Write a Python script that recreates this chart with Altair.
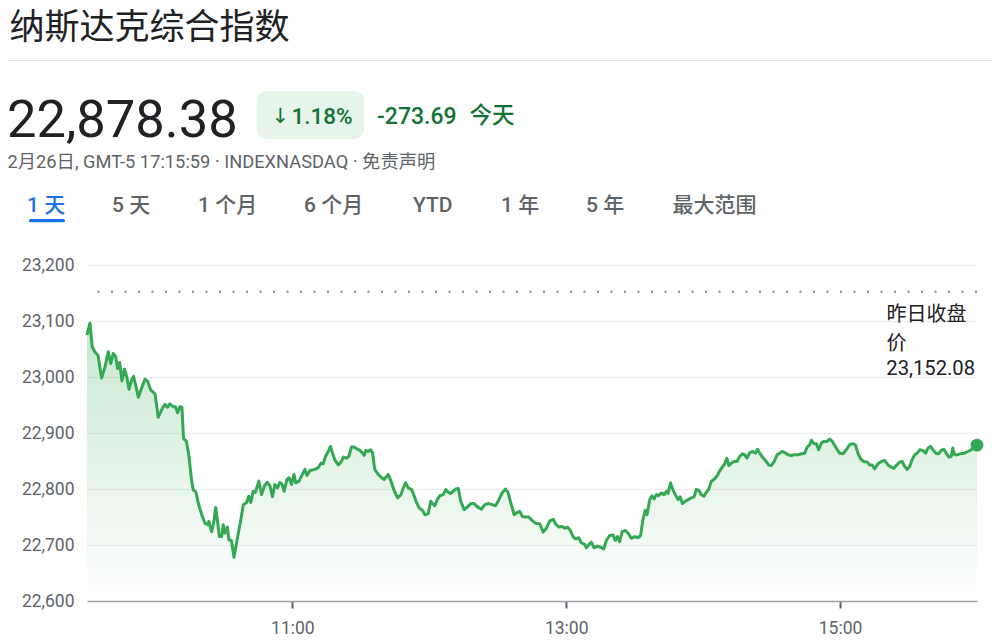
import altair as alt
import pandas as pd

# ---------------- data ----------------
title_text = "纳斯达克综合指数"
last_price = 22878.38
change_pts = "-273.69"
change_pct = "1.18%"
today_label = "今天"
prev_close = 23152.08
prev_close_label = ["昨日收盘", "价"]
subtitle_text = "2月26日, GMT-5 17:15:59 · INDEXNASDAQ · 免责声明"
range_tabs = ["1 天", "5 天", "1 个月", "6 个月", "YTD", "1 年", "5 年", "最大范围"]

session_date = (2026, 2, 26)
open_time = "09:30"
close_time = "16:00"
x_tick_times = ["11:00", "13:00", "15:00"]
y_ticks = [22600, 22700, 22800, 22900, 23000, 23100, 23200]

# minutes after the 09:30 open
minutes = [
    0.0, 1.3, 2.3, 3.4, 4.8, 6.4, 7.9, 9.3, 10.4, 11.5, 12.6, 13.4, 14.3, 15.3, 16.4, 17.4,
    18.4, 19.6, 20.4, 21.3, 22.5, 23.9, 25.4, 26.6, 27.9, 29.8, 31.2, 33.0, 34.2, 35.3, 36.3,
    37.7, 38.8, 39.7, 40.7, 41.6, 42.3, 43.6, 44.7, 45.8, 46.6, 47.7, 48.8, 50.3, 51.7, 52.9,
    53.4, 54.6, 55.5, 56.4, 57.1, 58.0, 59.0, 59.7, 60.4, 61.5, 62.2, 63.3, 64.4,
    66.3, 67.4, 68.5, 69.9, 70.9, 71.8, 72.8, 73.8, 75.3, 76.5, 77.7, 79.0, 80.2, 81.3, 82.3,
    83.5, 84.5, 85.5, 86.4, 87.6, 88.6, 89.6, 90.7, 91.5, 92.9, 94.0, 95.5, 96.4, 97.7, 99.9,
    101.3, 102.5, 103.5, 104.5, 105.7, 106.7, 107.6, 108.6, 110.1, 111.3, 112.4, 113.7, 114.7,
    115.9, 117.0, 118.5, 119.6, 120.6, 121.5, 122.2, 123.2, 124.3, 125.1, 126.1, 127.6, 129.1,
    130.2, 132.0, 133.2, 134.7, 136.1, 137.6, 138.6, 139.6, 140.8, 142.3, 143.4, 144.4, 145.6,
    147.0, 148.1, 149.5, 150.6, 151.4, 152.4, 153.5, 154.6, 156.1, 157.2, 158.3, 159.3, 160.5,
    161.6, 162.7, 163.8, 165.3, 166.7, 168.2, 169.6, 171.1, 172.8, 174.3, 176.0, 177.5, 179.0,
    180.4, 181.9, 183.4, 184.5, 185.7, 187.2, 188.5, 189.6, 190.8, 192.3, 193.6, 195.0, 196.5,
    198.4, 199.9, 201.3, 202.8, 204.3, 205.3, 206.7, 208.2, 209.4, 210.5, 211.8, 213.0, 214.0,
    215.5, 216.6, 218.1, 218.8, 220.0, 221.0, 222.2, 223.6, 225.1, 226.4, 227.6, 229.0, 230.5,
    231.5, 232.4, 233.4, 234.5, 235.9, 237.1, 238.5, 240.0, 241.4, 242.6, 243.6, 244.6, 245.4,
    246.6, 247.6, 248.5, 249.5, 250.5, 251.7, 252.9, 253.9, 254.6, 255.7, 256.8, 257.8, 259.0,
    259.9, 260.9, 262.2, 263.4, 264.9, 266.0, 267.0, 268.0, 269.2, 270.4, 271.4, 272.4, 273.6,
    275.0, 276.2, 277.2, 278.4, 279.4, 280.4, 281.3, 282.3, 283.5, 284.8, 286.0, 287.2, 288.2,
    289.2, 290.4, 291.8, 292.9, 293.8, 294.8, 295.8, 297.3, 298.7, 299.9, 301.1, 302.4, 303.5,
    304.6, 305.7, 307.2, 308.6, 310.1, 311.5, 313.0, 314.5, 315.6, 316.7, 317.4, 318.6, 319.6,
    320.6, 321.8, 323.0, 324.3, 325.5, 326.6, 328.8, 329.8, 331.3, 332.7, 334.2, 335.6, 336.7,
    337.8, 339.0, 340.4, 341.9, 342.9, 344.1, 345.1, 346.6, 348.0, 349.5, 351.0, 352.4, 353.6,
    354.6, 356.1, 357.3, 358.3, 359.4, 360.5, 361.5, 362.7, 363.8, 364.9, 366.3, 367.5, 368.5,
    369.7, 370.7, 371.9, 373.2, 374.3, 375.5, 376.5, 377.7, 378.7, 379.4, 380.2, 381.3, 382.8,
    384.5, 386.0, 387.4, 390.0,
]
prices = [
    23075, 23096, 23054, 23045, 23039, 22998, 23018, 23045, 23024, 23042, 23036, 23015, 23026, 22993, 23014, 23001,
    22978, 22995, 23001, 22986, 22964, 22980, 22996, 22992, 22977, 22970, 22928, 22944, 22951, 22946, 22952,
    22947, 22947, 22936, 22947, 22946, 22890, 22885, 22858, 22816, 22798, 22795, 22774, 22754, 22739, 22736,
    22742, 22724, 22739, 22767, 22745, 22715, 22715, 22736, 22721, 22732, 22709, 22708, 22678,
    22721, 22745, 22772, 22776, 22787, 22776, 22796, 22794, 22814, 22790, 22805, 22812, 22805, 22786, 22808,
    22802, 22812, 22808, 22796, 22817, 22820, 22808, 22826, 22811, 22814, 22823, 22835, 22824, 22833, 22835,
    22838, 22846, 22845, 22858, 22867, 22876, 22864, 22852, 22843, 22848, 22857, 22855, 22858,
    22875, 22875, 22871, 22869, 22865, 22860, 22869, 22867, 22870, 22865, 22835, 22826, 22820,
    22817, 22826, 22814, 22796, 22784, 22790, 22802, 22811, 22802, 22799, 22787, 22776, 22766,
    22762, 22754, 22756, 22778, 22774, 22770, 22781, 22788, 22790, 22799, 22794, 22792, 22796,
    22800, 22801, 22778, 22763, 22768, 22774, 22774, 22768, 22764, 22772, 22774, 22772, 22770,
    22780, 22793, 22800, 22794, 22775, 22754, 22758, 22760, 22751, 22750, 22750, 22744, 22739,
    22738, 22723, 22730, 22743, 22746, 22738, 22732, 22733, 22730, 22732, 22726, 22715, 22711,
    22713, 22704, 22701, 22695, 22701, 22705, 22695, 22698, 22696, 22693, 22708, 22717, 22718,
    22708, 22715, 22706, 22724, 22726, 22721, 22712, 22715, 22713, 22717, 22745, 22762, 22754,
    22781, 22788, 22782, 22790, 22788, 22793, 22790, 22796, 22792, 22811, 22798, 22790, 22781,
    22786, 22774, 22778, 22781, 22784, 22786, 22799, 22798, 22790, 22787, 22794, 22799, 22814,
    22818, 22824, 22832, 22839, 22845, 22855, 22842, 22846, 22849, 22849, 22858, 22863, 22861,
    22855, 22865, 22867, 22864, 22871, 22864, 22858, 22851, 22843, 22842, 22849, 22861, 22864,
    22867, 22865, 22861, 22860, 22861, 22861, 22863, 22864, 22875, 22879, 22887, 22881, 22881,
    22870, 22882, 22885, 22885, 22889, 22885, 22870, 22864, 22863, 22870, 22879, 22881, 22879,
    22864, 22854, 22849, 22848, 22843, 22843, 22836, 22845, 22849, 22851, 22843, 22839, 22837,
    22842, 22848, 22849, 22840, 22835, 22840, 22852, 22861, 22864, 22870, 22869, 22864, 22873,
    22876, 22870, 22864, 22863, 22869, 22871, 22864, 22857, 22858, 22873, 22861, 22861, 22863,
    22864, 22867, 22870, 22878.38,
]

# ---------------- build table ----------------
def hm(s):
    h, m = s.split(":")
    return int(h), int(m)

oh, om = hm(open_time)
base_ts = pd.Timestamp(year=session_date[0], month=session_date[1], day=session_date[2],
                       hour=oh, minute=om, tz="UTC")
times = [(base_ts + pd.Timedelta(seconds=round(m * 60))).strftime("%Y-%m-%dT%H:%M:%SZ") for m in minutes]
df = pd.DataFrame({"t": times, "price": prices})


def dt(s):
    h, m = hm(s)
    return alt.DateTime(year=session_date[0], month=session_date[1], date=session_date[2],
                        hours=h, minutes=m, utc=True)


LATIN = "Roboto, 'Noto Sans CJK SC', sans-serif"
CJK = "'Noto Sans CJK SC', Roboto, sans-serif"
DARK = "#202124"
GREY = "#5f6368"
GREEN_TXT = "#137333"
GREEN = "#34a853"

x_enc = alt.X(
    "t:T",
    scale=alt.Scale(type="utc", domain=[dt(open_time), dt(close_time)]),
    axis=alt.Axis(values=[dt(s) for s in x_tick_times], format="%H:%M", title=None, grid=False,
                  domain=True, domainColor="#9aa0a6", domainWidth=1.5, ticks=True,
                  tickColor=GREY, tickWidth=2, tickSize=7, labelFontSize=17.5, labelColor=GREY,
                  labelFont="Roboto", labelPadding=11),
)
y_enc = alt.Y(
    "price:Q",
    scale=alt.Scale(domain=[y_ticks[0], y_ticks[-1]], nice=False, zero=False),
    axis=alt.Axis(values=y_ticks, format=",.0f", title=None, grid=True, gridColor="#ececec",
                  gridWidth=1, domain=False, ticks=False, labelFontSize=17.5, labelColor=GREY,
                  labelFont="Roboto", labelPadding=13),
)

gradient = alt.Gradient(
    gradient="linear",
    stops=[alt.GradientStop(color="rgba(52,168,83,0)", offset=0),
           alt.GradientStop(color="rgba(52,168,83,0.27)", offset=1)],
    x1=1, x2=1, y1=1, y2=0,
)

area = alt.Chart(df).mark_area(color=gradient).encode(x=x_enc, y=y_enc, y2=alt.datum(y_ticks[0]))
line = alt.Chart(df).mark_line(color=GREEN, strokeWidth=3, strokeJoin="round").encode(x=x_enc, y=y_enc)
prev_rule = alt.Chart(pd.DataFrame({"price": [prev_close]})).mark_rule(
    color="#80868b", strokeWidth=2, strokeDash=[2, 11.5]).encode(y=y_enc)
end_dot = alt.Chart(df.tail(1)).mark_circle(color=GREEN, opacity=1, size=165).encode(x=x_enc, y=y_enc)

dummy = pd.DataFrame({"k": [0]})


def label(text, x, y, size, color, font=LATIN, weight=400):
    return alt.Chart(dummy).mark_text(
        text=text, fontSize=size, color=color, font=font, fontWeight=weight,
        align="left", baseline="alphabetic",
    ).encode(x=alt.value(x), y=alt.value(y))


def box(x1, x2, y1, y2, color, radius=0):
    return alt.Chart(dummy).mark_rect(color=color, cornerRadius=radius).encode(
        x=alt.value(x1), x2=alt.value(x2), y=alt.value(y1), y2=alt.value(y2))


separator = alt.Chart(dummy).mark_rule(color="#e3e3e3", strokeWidth=1).encode(
    x=alt.value(-79), x2=alt.value(913), y=alt.value(-204.5))

layers = [
    area, line, prev_rule, end_dot,
    label(title_text, -77.5, -226.2, 35, DARK, font=CJK),
    separator,
    label(f"{last_price:,.2f}", -80, -128.5, 52.5, DARK, font="Roboto"),
    box(169.7, 277, -174, -126, "#e6f4ea", radius=10),
    label("↓", 184.5, -142, 21, GREEN_TXT, font="'DejaVu Sans', sans-serif"),
    label(change_pct, 204.5, -141, 22.5, GREEN_TXT, font="Roboto", weight=500),
    label(change_pts, 290, -141, 23, GREEN_TXT, font="Roboto", weight=500),
    label(today_label, 382.5, -142.5, 22.5, GREEN_TXT, font=CJK, weight=500),
    label(subtitle_text, -79.5, -96.7, 18.3, GREY),
    box(-58, -22, -46, -42.7, "#1a73e8", radius=2),
    label(prev_close_label[0], 799.5, 56, 20, DARK, font=CJK),
    label(prev_close_label[1], 799.5, 85, 20, DARK, font=CJK),
    label(f"{prev_close:,.2f}", 799.3, 110, 20.2, DARK, font="Roboto"),
]

tab_x = [-60, 25, 111, 217, 326, 414, 499, 585.5]
for i, (name, tx) in enumerate(zip(range_tabs, tab_x)):
    layers.append(label(name, tx, -53, 21, "#1a73e8" if i == 0 else GREY, weight=500))

chart = alt.layer(*layers).properties(
    width=890, height=336,
    padding={"left": 79, "top": 257, "right": 15, "bottom": 40},
    autosize=alt.AutoSizeParams(type="none"),
    background="white",
).configure_view(stroke=None)

chart.save("out.html", embed_options={"renderer": "svg", "actions": False})
